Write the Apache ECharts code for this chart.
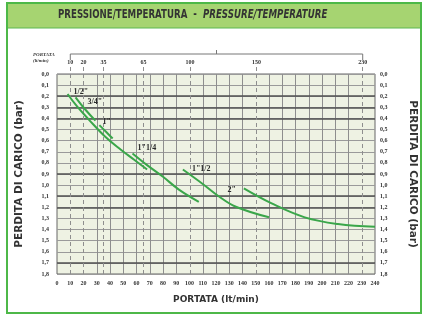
<!DOCTYPE html>
<html>
<head>
<meta charset="utf-8">
<script src="https://cdn.jsdelivr.net/npm/echarts@6/dist/echarts.min.js"></script>
<style>
  html, body { margin: 0; padding: 0; background: #fff; }
  #canvas { width: 426px; height: 320px; }
</style>
</head>
<body>
<div id="canvas"></div>
<script>
// pipe sizes and their curves (flow lt/min -> pressure drop bar)
var pipeSizes = ['1/2"', '3/4"', '1"', '1"1/4', '1"1/2', '2"'];
var flow_12 = [8, 15, 24, 36, 48, 58, 68];
var drop_12 = [0.18, 0.29, 0.41, 0.56, 0.68, 0.77, 0.86];
var flow_34 = [14, 21, 29];
var drop_34 = [0.21, 0.315, 0.42];
var flow_1 = [32, 37, 42];
var drop_1 = [0.46, 0.52, 0.58];
var flow_114 = [57, 68, 80, 92, 107];
var drop_114 = [0.715, 0.82, 0.925, 1.04, 1.15];
var flow_112 = [95, 110, 122, 135, 160];
var drop_112 = [0.86, 0.99, 1.1, 1.195, 1.29];
var flow_2 = [141, 162, 187, 212, 240];
var drop_2 = [1.03, 1.165, 1.29, 1.35, 1.375];

var topTicks = [10, 20, 35, 65, 100, 150, 230];   // dashed reference flows
var darkRows = [0.2, 0.3, 0.4, 0.9, 1.1, 1.2, 1.7]; // heavier horizontal rules
var xMax = 240, yMax = 1.8;

var fontT = '"DejaVu Sans", sans-serif';
var fontS = '"Liberation Serif", "DejaVu Serif", serif';
var green = '#3aa64a';

var solidCols = [];
for (var v = 10; v < xMax; v += 10) {
    if (topTicks.indexOf(v) < 0) solidCols.push(v);
}

var labelOffsets = [[0, -2], [6, 5], [-3, -3], [-1, -6], [3, -1], [-2, 1]];
var labelPos = ['right', 'right', 'right', 'right', 'right', 'left'];

var curve = function(i, xs, ys) {
    var data = [];
    for (var k in xs) {
        var item = {value: [xs[k], ys[k]]};
        if (k == 0) {
            item.label = {
                show: true, formatter: pipeSizes[i], position: labelPos[i],
                offset: labelOffsets[i], fontFamily: fontS, fontWeight: 'bold',
                fontSize: 8, color: '#2a2a2a'
            };
        }
        data.push(item);
    }
    return {
        type: 'line', xAxisIndex: 0, yAxisIndex: 0, data: data,
        smooth: 0.4, symbol: 'circle', symbolSize: 2, showSymbol: true,
        itemStyle: {color: 'rgba(0,0,0,0)', borderWidth: 0},
        lineStyle: {color: green, width: 2}, z: 5
    };
};

var fmt = function(v) { return v.toFixed(1).replace('.', ','); };

var myChart = echarts.init(document.getElementById('canvas'));
var option = {
    animation: false,
    graphic: [
        {type: 'rect', shape: {x: 8, y: 4, width: 412, height: 24}, style: {fill: '#a6d471'}, z: -10},
        {type: 'line', shape: {x1: 8, y1: 28, x2: 420, y2: 28}, style: {stroke: '#5cb850', lineWidth: 1}, z: -9},
        {type: 'rect', shape: {x: 7, y: 3, width: 414, height: 310}, style: {fill: null, stroke: '#4db848', lineWidth: 2}, z: 10},
        {
            type: 'text', x: 58, y: 9, scaleX: 0.72,
            style: {
                text: '{a|PRESSIONE/TEMPERATURA  -  }{b|PRESSURE/TEMPERATURE}',
                rich: {
                    a: {fontFamily: fontT, fontWeight: 'bold', fontSize: 12, fill: '#333'},
                    b: {fontFamily: fontT, fontWeight: 'bold', fontStyle: 'italic', fontSize: 12, fill: '#333'}
                }
            }
        },
        {type: 'text', left: 33, top: 52, style: {text: 'PORTATA\n(lt/min)', fontFamily: fontS, fontStyle: 'italic', fontWeight: 'bold', fontSize: 5, lineHeight: 6, fill: '#333'}}
    ],
    grid: [
        {left: 57, right: 50, top: 74, bottom: 46, show: true, backgroundColor: '#eef2e3', borderColor: '#666', borderWidth: 1},
        {left: 57, right: 50, top: 66, bottom: 46},
        {left: 57, right: 50, top: 50, height: 10}
    ],
    xAxis: [
        {
            type: 'value', gridIndex: 0, min: 0, max: xMax, interval: 10,
            name: 'PORTATA (lt/min)', nameLocation: 'middle', nameGap: 21,
            nameTextStyle: {fontFamily: fontT, fontWeight: 'bold', fontSize: 9, color: '#333'},
            axisLine: {show: false}, axisTick: {show: false}, splitLine: {show: false},
            axisLabel: {margin: 6, fontFamily: fontS, fontWeight: 'bold', fontSize: 6, color: '#333'}
        },
        {type: 'value', gridIndex: 1, min: 0, max: xMax, show: false},
        {type: 'value', gridIndex: 2, min: 0, max: xMax, show: false}
    ],
    yAxis: [
        {
            type: 'value', gridIndex: 0, min: 0, max: yMax, interval: 0.1, inverse: true,
            name: 'PERDITA DI CARICO (bar)', nameLocation: 'middle', nameGap: 32, nameRotate: 90,
            nameTextStyle: {fontFamily: fontT, fontWeight: 'bold', fontSize: 10.5, color: '#333'},
            axisLine: {show: false}, axisTick: {show: false},
            splitLine: {show: true, lineStyle: {color: '#9a9a9a', width: 1}},
            axisLabel: {margin: 8, formatter: fmt, fontFamily: fontS, fontWeight: 'bold', fontSize: 6, color: '#333'}
        },
        {
            type: 'value', gridIndex: 0, min: 0, max: yMax, interval: 0.1, inverse: true, position: 'right',
            name: 'PERDITA DI CARICO (bar)', nameLocation: 'middle', nameGap: 32, nameRotate: -90,
            nameTextStyle: {fontFamily: fontT, fontWeight: 'bold', fontSize: 10.5, color: '#333'},
            axisLine: {show: false}, axisTick: {show: false}, splitLine: {show: false},
            axisLabel: {margin: 5, formatter: fmt, fontFamily: fontS, fontWeight: 'bold', fontSize: 6, color: '#333'}
        },
        {type: 'value', gridIndex: 1, min: 0, max: 1, show: false},
        {type: 'value', gridIndex: 2, min: 0, max: 1, show: false}
    ],
    series: [
        {
            // grid rules
            type: 'line', xAxisIndex: 0, yAxisIndex: 0, data: [], silent: true,
            markLine: {
                symbol: 'none', silent: true, label: {show: false},
                data: solidCols.map(function(c) {
                    return {xAxis: c, lineStyle: {color: '#8e8e8e', width: 1, type: 'solid'}};
                }).concat(darkRows.map(function(r) {
                    return {yAxis: r, lineStyle: {color: '#505050', width: 1.6, type: 'solid'}};
                }))
            }
        },
        {
            // dashed reference flows with the top labels
            type: 'line', xAxisIndex: 1, yAxisIndex: 2, data: [], silent: true,
            markLine: {
                symbol: 'none', silent: true,
                lineStyle: {color: '#8e8e8e', width: 1, type: [4, 3]},
                label: {show: true, position: 'end', distance: 1, formatter: '{c}',
                        fontFamily: fontS, fontWeight: 'bold', fontSize: 6, color: '#333'},
                data: topTicks.map(function(t) { return {xAxis: t}; })
            }
        },
        {
            // bracket over the top labels
            type: 'line', xAxisIndex: 2, yAxisIndex: 3, silent: true, symbol: 'none',
            lineStyle: {color: '#777', width: 1},
            data: [[topTicks[0], 0], [topTicks[0], 0.6], [topTicks[topTicks.length - 1], 0.6], [topTicks[topTicks.length - 1], 0]]
        },
        {
            type: 'line', xAxisIndex: 2, yAxisIndex: 3, silent: true, symbol: 'none',
            lineStyle: {color: '#777', width: 1},
            data: [[(topTicks[0] + topTicks[topTicks.length - 1]) / 2, 0.6], [(topTicks[0] + topTicks[topTicks.length - 1]) / 2, 1]]
        },
        curve(0, flow_12, drop_12),
        curve(1, flow_34, drop_34),
        curve(2, flow_1, drop_1),
        curve(3, flow_114, drop_114),
        curve(4, flow_112, drop_112),
        curve(5, flow_2, drop_2)
    ]
};
myChart.setOption(option);
</script>
</body>
</html>
